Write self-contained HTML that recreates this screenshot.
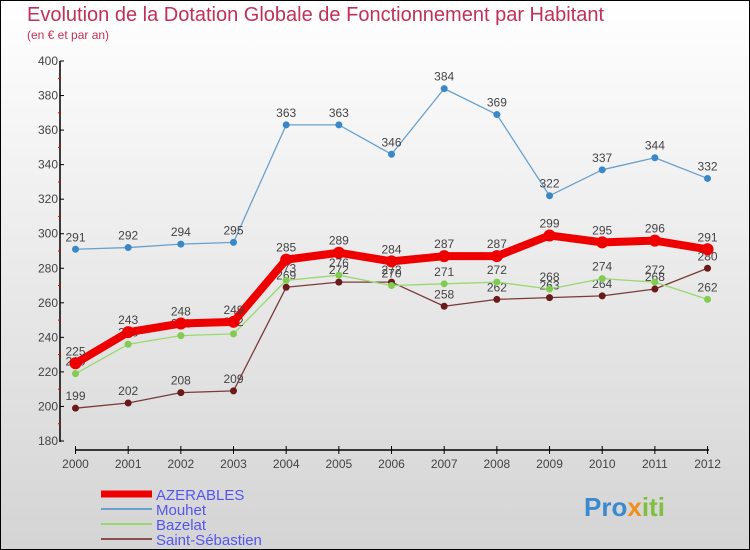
<!DOCTYPE html>
<html><head><meta charset="utf-8"><style>
body{margin:0}
#c{position:relative;width:748px;height:548px;border:1px solid #000;background:linear-gradient(#fff,#d4d4d4);font-family:"Liberation Sans",sans-serif;overflow:hidden}
.t{position:absolute;left:26px;top:3px;font-size:20px;color:#c0305a}
.s{position:absolute;left:26px;top:27px;font-size:12px;color:#c0305a}
</style></head><body>
<div id="c">
<div class="t">Evolution de la Dotation Globale de Fonctionnement par Habitant</div>
<div class="s">(en € et par an)</div>
<svg id="g" width="748" height="548" style="position:absolute;left:0;top:0"></svg>
</div>
<script>
const years=[2000,2001,2002,2003,2004,2005,2006,2007,2008,2009,2010,2011,2012];
const yTicks=[180,200,220,240,260,280,300,320,340,360,380,400];
const azerables=[225,243,248,249,285,289,284,287,287,299,295,296,291];
const mouhet=[291,292,294,295,363,363,346,384,369,322,337,344,332];
const bazelat=[219,236,241,242,273,276,270,271,272,268,274,272,262];
const stseb=[199,202,208,209,269,272,272,258,262,263,264,268,280];
const names=["AZERABLES","Mouhet","Bazelat","Saint-Sébastien"];
const NS="http://www.w3.org/2000/svg";
const g=document.getElementById('g');
const X=i=>74.5+i*52.67;
const Y=v=>440-(v-180)*380/220;
function el(t,a,txt,parent){const e=document.createElementNS(NS,t);for(const k in a)e.setAttribute(k,a[k]);if(txt!==undefined)e.textContent=txt;(parent||g).appendChild(e);return e;}
let e=el('line',{x1:59,y1:60,x2:59,y2:441,stroke:'#000','stroke-width':1.5});

e=el('line',{x1:74,y1:449,x2:708,y2:449,stroke:'#000','stroke-width':1.5});

yTicks.forEach((v,i)=>{
 el('line',{x1:59,y1:Y(v),x2:63,y2:Y(v),stroke:'#000'});
 if(i<yTicks.length-1){const m=Y(v+10);el('line',{x1:57,y1:m,x2:60,y2:m,stroke:'#e00'});}
 const t=el('text',{x:57,y:Y(v)+4,'text-anchor':'end','font-size':12,fill:'#444'},v);
 
});
years.forEach((y,i)=>{
 el('line',{x1:X(i),y1:445,x2:X(i),y2:453,stroke:'#000'});
 const t=el('text',{x:X(i),y:467,'text-anchor':'middle','font-size':12,fill:'#444'},y);
 
});
function series(d,col,w,dot,r,name){
 const p=el('polyline',{points:d.map((v,i)=>X(i)+','+Y(v)).join(' '),fill:'none',stroke:col,'stroke-width':w,'stroke-linejoin':'round'});
 
 d.forEach((v,i)=>{
  const c=el('circle',{cx:X(i),cy:Y(v),r:r,fill:dot});
  
  const t=el('text',{x:X(i),y:Y(v)-8,'text-anchor':'middle','font-size':12,fill:'#444'},v);
  
 });
}
series(mouhet,'#6aa0cc',1.3,'#3a88c8',3.5,'mouhet');
series(stseb,'#7a3a3a',1.3,'#6a1a1a',3.5,'saint-sebastien');
series(bazelat,'#99d870',1.3,'#80cc50',3.5,'bazelat');
series(azerables,'#ee0000',8,'#ee0000',6,'azerables');
const lc=['#ee0000','#6aa0cc','#99d870','#8a5050'],lw=[7,2,2,2];
names.forEach((n,i)=>{
 const y=493+i*15;
 const l=el('line',{x1:100,y1:y,x2:151,y2:y,stroke:lc[i],'stroke-width':lw[i]});
 
 const t=el('text',{x:155,y:y+6,'font-size':15,fill:'#5555ee'},n);
 
});
const b=el('text',{x:583,y:515,'font-size':26,'font-weight':'bold'});

el('tspan',{fill:'#3a8ad0'},'Pro',b);
el('tspan',{fill:'#f09020'},'x',b);
el('tspan',{fill:'#80c040'},'iti',b);
</script>
</body></html>
